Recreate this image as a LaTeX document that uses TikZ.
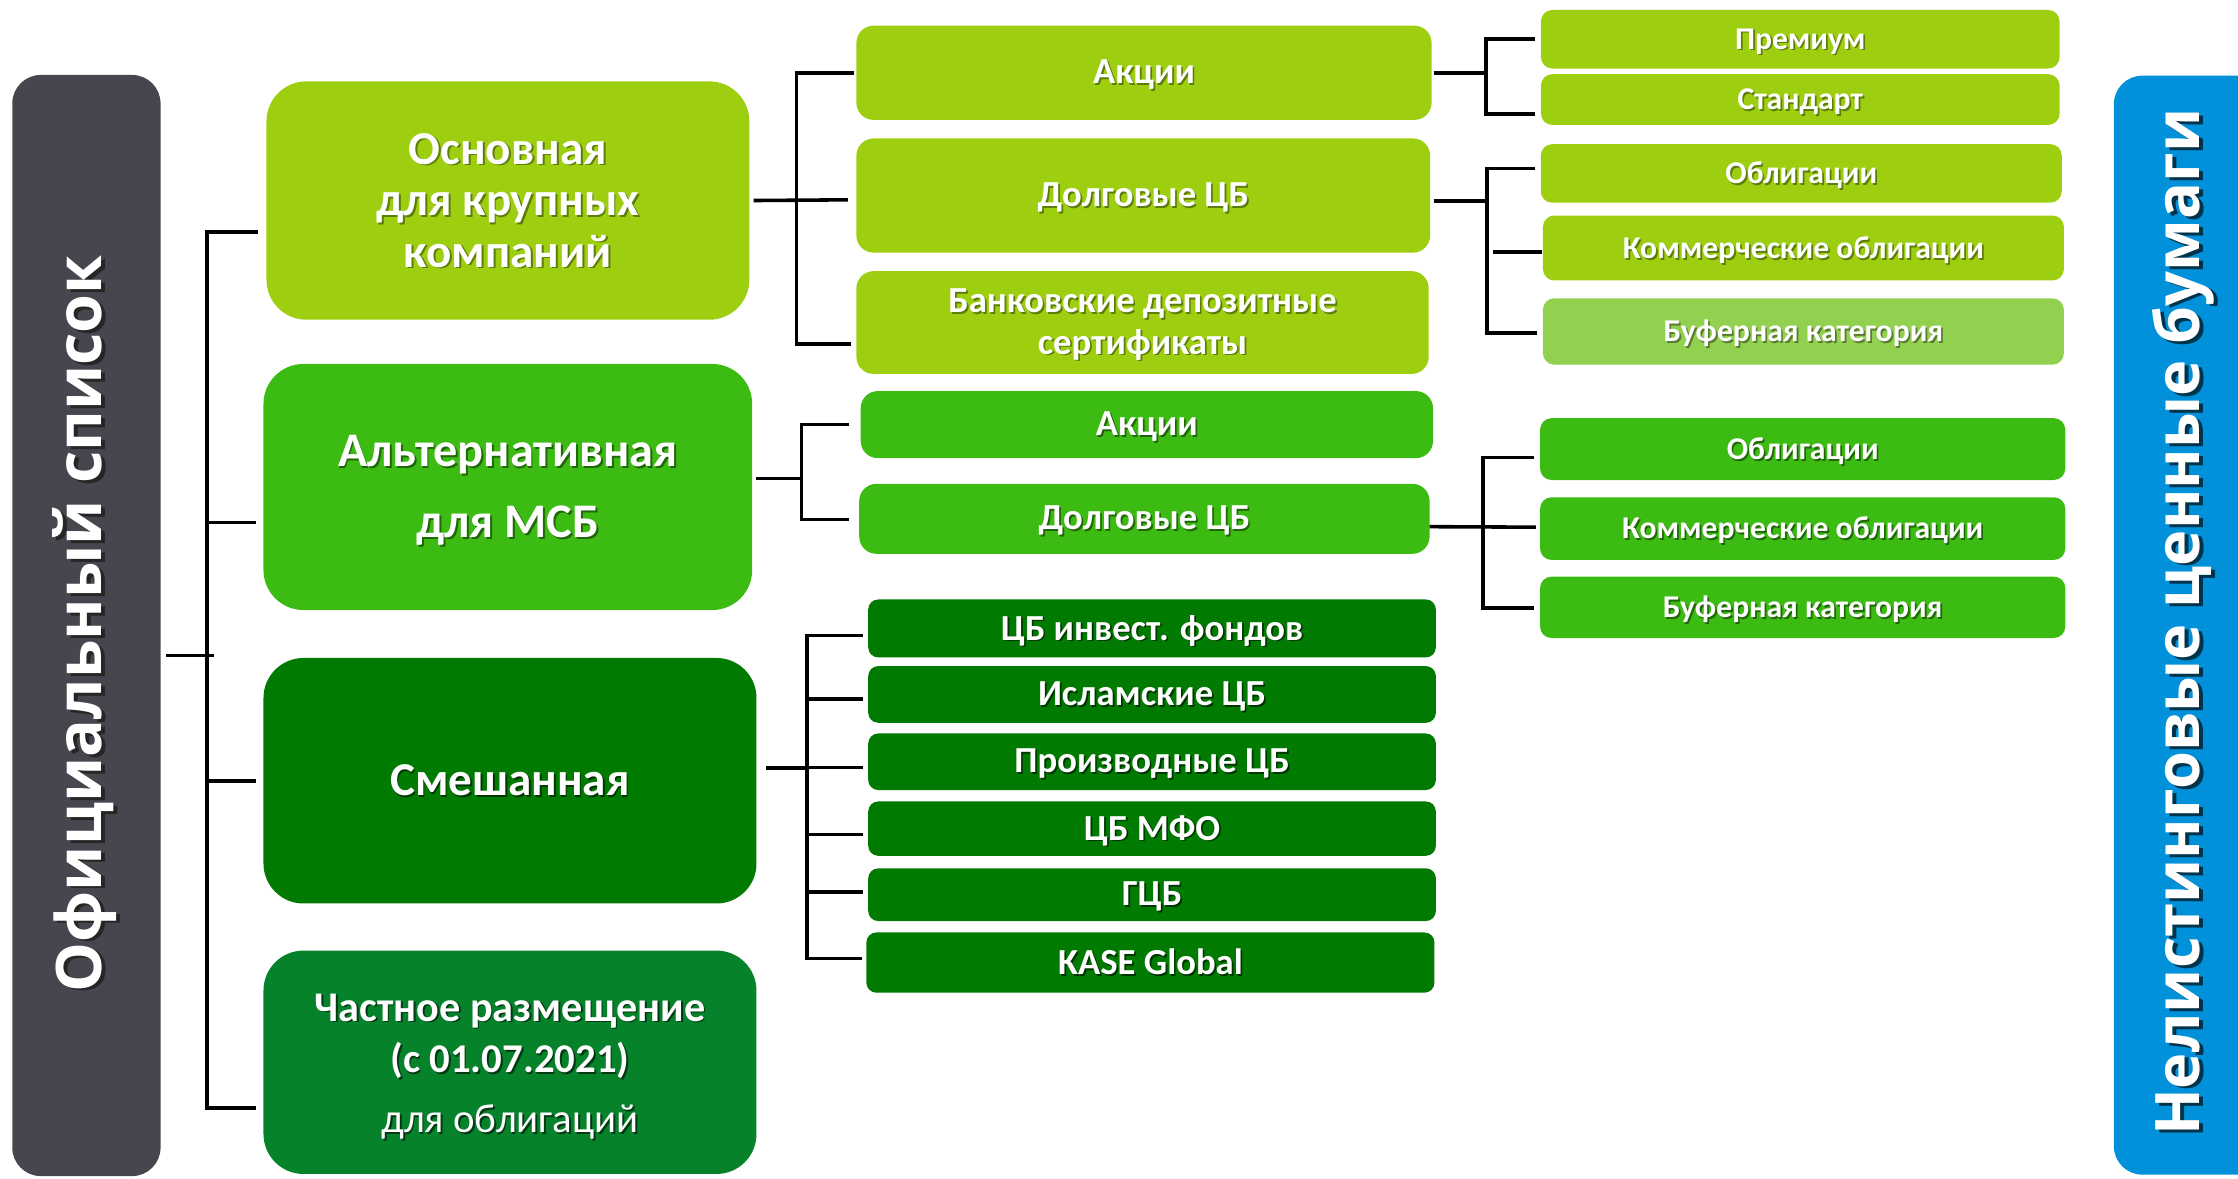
\documentclass[tikz,border=0pt]{standalone}
\usepackage{fontspec}
\setmainfont{Carlito}
\newfontfamily\sidefont{Open Sans}
\usetikzlibrary{calc}

\definecolor{cDark}{HTML}{46464F}
\definecolor{cBlue}{HTML}{0091DA}
\definecolor{cLime}{HTML}{9DCF10}
\definecolor{cGreen}{HTML}{3CBB12}
\definecolor{cBuf}{HTML}{92D050}
\definecolor{cDeep}{HTML}{007A00}
\definecolor{cPriv}{HTML}{06822A}
\colorlet{shc}{black}

\newlength\shdrop
\setlength\shdrop{2pt}
% text with a soft drop shadow (lowered by \shdrop without changing its extent)
\newcommand\sht[1]{\leavevmode\raisebox{-\shdrop}[\height][\depth]{\rlap{\kern1.2pt\raisebox{-1.2pt}{\textcolor{shc}{#1}}}#1}}
\newcommand\shv[1]{\leavevmode\rlap{\kern-2pt\raisebox{-2.5pt}{\textcolor{shc}{#1}}}#1}

% box from corners: style, name, x1, y1, x2, y2, text
\newcommand\bx[7]{%
  \node[#1, minimum width={(#5-#3)*1pt}, minimum height={(#6-#4)*1pt}]
    (#2) at ({(#3+#5)/2},{(#4+#6)/2}) {#7};}

\tikzset{
  base/.style={rectangle, inner sep=0pt, outer sep=0pt, text=white, align=center},
  tdrop/.style={execute at begin node={\setlength\shdrop{#1}}},
  lvlone/.style={base, rounded corners=28pt, font=\fontsize{33}{36}\selectfont\bfseries, tdrop=0.5pt},
  lvltwo/.style={base, rounded corners=12pt, font=\fontsize{25.7}{29}\selectfont\bfseries},
  lvlmix/.style={base, rounded corners=7pt, font=\fontsize{25.7}{29}\selectfont\bfseries},
  lvlthree/.style={base, rounded corners=8pt, font=\fontsize{22.2}{24}\selectfont\bfseries},
  sidebox/.style={base, rounded corners=20pt},
  sidetext/.style={inner sep=0pt, rotate=90, text=white, font=\sidefont\bfseries\fontsize{44}{48}\selectfont},
  lime/.style={fill=cLime, execute at begin node={\colorlet{shc}{cLime!60!black}}},
  green/.style={fill=cGreen, execute at begin node={\colorlet{shc}{cGreen!55!black}}},
  buf/.style={fill=cBuf, execute at begin node={\colorlet{shc}{cBuf!60!black}}},
  deep/.style={fill=cDeep, execute at begin node={\colorlet{shc}{cDeep!45!black}}},
  priv/.style={fill=cPriv, execute at begin node={\colorlet{shc}{cPriv!45!black}}},
  conn/.style={draw=black, line width=2.5pt, line join=miter},
}

\begin{document}
\begin{tikzpicture}[x=1pt, y=-1pt]
\path[use as bounding box] (0,0) rectangle (1568,826);
\clip (0,0) rectangle (1568,826);

% side panels
\bx{sidebox, fill=cDark}{offl}{8.6}{52.5}{112.5}{824}{}
\bx{sidebox, fill=cBlue}{nonl}{1481}{53}{1610}{823}{}
\node[sidetext, execute at begin node={\colorlet{shc}{black!85}}] (offtxt) at (60.5,437) {\shv{Официальный список}};
\node[sidetext, font=\sidefont\bfseries\fontsize{43}{48}\selectfont, execute at begin node={\colorlet{shc}{cBlue!35!black}}] (nontxt) at (1531,436) {\shv{Нелистинговые ценные бумаги}};

% level 1
\bx{lvlone, lime}{osn}{186.7}{57}{525}{224}{\sht{Основная}\\\sht{для крупных}\\\sht{компаний}}
\bx{lvlone, green, font=\fontsize{33.8}{36}\selectfont\bfseries, tdrop=3pt}{alt}{184.6}{255}{527}{427.4}{\sht{Альтернативная}\\[14pt]\sht{для МСБ}}
\bx{lvlone, deep}{mix}{184.6}{461}{530}{633}{\sht{Смешанная}}
\bx{lvlone, priv, tdrop=3.5pt}{priv}{184.6}{666}{530}{822.5}{\fontsize{29.6}{33}\selectfont\sht{Частное размещение}\\\fontsize{28.6}{33}\selectfont\sht{(с 01.07.2021)}\\[6pt]\fontsize{28.6}{33}\selectfont\mdseries\sht{для облигаций}}

% level 2
\bx{lvltwo, lime}{akc}{600}{18}{1003}{84}{\sht{Акции}}
\bx{lvltwo, lime}{dlg}{600}{97}{1002}{177}{\sht{Долговые ЦБ}}
\bx{lvltwo, lime}{bnk}{600}{190}{1001}{262}{\sht{Банковские депозитные}\\\sht{сертификаты}}
\bx{lvltwo, green}{akc2}{603}{274}{1004}{321}{\sht{Акции}}
\bx{lvltwo, green}{dlg2}{602}{339}{1001.6}{388}{\sht{Долговые ЦБ}}

\bx{lvlmix, deep}{inv}{608.3}{420}{1006}{460.6}{\sht{ЦБ инвест. фондов}}
\bx{lvlmix, deep}{isl}{608.3}{466.7}{1006}{506.4}{\sht{Исламские ЦБ}}
\bx{lvlmix, deep}{prz}{608.3}{513.9}{1006}{553.5}{\sht{Производные ЦБ}}
\bx{lvlmix, deep}{mfo}{608.3}{561.5}{1006}{599.6}{\sht{ЦБ МФО}}
\bx{lvlmix, deep}{gcb}{608.3}{608.4}{1006}{645.3}{\sht{ГЦБ}}
\bx{lvlmix, deep, tdrop=0pt}{kase}{607}{653.3}{1005}{695.5}{\sht{KASE Global}}

% level 3
\bx{lvlthree, lime}{prem}{1079.6}{7}{1443}{48}{\sht{Премиум}}
\bx{lvlthree, lime}{std}{1079.6}{52}{1443}{87.5}{\sht{Стандарт}}
\bx{lvlthree, lime}{obl}{1079.5}{101}{1444.5}{142}{\sht{Облигации}}
\bx{lvlthree, lime}{kom}{1081}{151}{1446}{196.5}{\sht{Коммерческие облигации}}
\bx{lvlthree, buf}{buf}{1081}{209}{1446}{255.5}{\sht{Буферная категория}}
\bx{lvlthree, green}{obl2}{1079}{293}{1447}{336.3}{\sht{Облигации}}
\bx{lvlthree, green}{kom2}{1079}{348.4}{1447}{392.3}{\sht{Коммерческие облигации}}
\bx{lvlthree, green}{buf2}{1079}{404}{1447}{447}{\sht{Буферная категория}}

% ---- connectors ----
% official list bracket
\coordinate (bl) at (145,0);
\coordinate (o0) at ($(offl.east)+(4,21)$);
\coordinate (o1) at ($(osn.west)+(-6,22)$);
\coordinate (o2) at ($(alt.west)+(-5,25)$);
\coordinate (o3) at ($(mix.west)+(-5,0)$);
\coordinate (o4) at ($(priv.west)+(-5,32)$);
\draw[conn] (o1) -- (bl|-o1) -- (bl|-o4) -- (o4);
\draw[conn] (o2) -- (bl|-o2);
\draw[conn] (o3) -- (bl|-o3);
\draw[conn] (o0) -- ($(bl|-o0)+(5,0)$);

% main board bracket
\coordinate (bxa) at (558,0);
\coordinate (a0) at ($(osn.east)+(3,0)$);
\coordinate (a1) at ($(akc.west)+(-2,0)$);
\coordinate (a2) at ($(dlg.west)+(-6,3)$);
\coordinate (a3) at ($(bnk.west)+(-4,15)$);
\draw[conn] (a1) -- (bxa|-a1) -- (bxa|-a3) -- (a3);
\draw[conn] (a0) -- (a2);

% alternative board bracket
\coordinate (bxb) at (561.5,0);
\coordinate (c0) at ($(alt.east)+(3,-6)$);
\coordinate (c1) at ($(akc2.west)+(-8,0)$);
\coordinate (c2) at ($(dlg2.west)+(-7,0.5)$);
\draw[conn] (c1) -- (bxb|-c1) -- (bxb|-c2) -- (c2);
\draw[conn] (c0) -- (bxb|-c0);

% mixed board bracket
\coordinate (bxc) at (565.5,0);
\coordinate (m0) at ($(mix.east)+(7,-9)$);
\coordinate (m1) at ($(inv.west)+(-4,5)$);
\coordinate (m2) at ($(isl.west)+(-4,3)$);
\coordinate (m3) at ($(prz.west)+(-4,4)$);
\coordinate (m4) at ($(mfo.west)+(-4,4)$);
\coordinate (m5) at ($(gcb.west)+(-4,-2)$);
\coordinate (m6) at ($(kase.west)+(-3,-3)$);
\draw[conn] (m1) -- (bxc|-m1) -- (bxc|-m6) -- (m6);
\draw[conn] (m0) -- (bxc|-m0);
\draw[conn] (bxc|-m2) -- (m2);
\draw[conn] (bxc|-m3) -- (m3);
\draw[conn] (bxc|-m4) -- (m4);
\draw[conn] (bxc|-m5) -- (m5);

% shares: premium / standard
\coordinate (bxd) at (1041,0);
\coordinate (p0) at ($(akc.east)+(2,0)$);
\coordinate (p1) at ($(prem.west)+(-4,0)$);
\coordinate (p2) at ($(std.west)+(-4,10)$);
\draw[conn] (p1) -- (bxd|-p1) -- (bxd|-p2) -- (p2);
\draw[conn] (p0) -- (bxd|-p0);

% debt (main)
\coordinate (bxe) at (1042,0);
\coordinate (q0) at ($(dlg.east)+(3,4)$);
\coordinate (q1) at ($(obl.west)+(-4,-3.5)$);
\coordinate (q2) at ($(kom.west)+(-1,3)$);
\coordinate (q3) at ($(buf.west)+(-4,1)$);
\draw[conn] (q1) -- (bxe|-q1) -- (bxe|-q3) -- (q3);
\draw[conn] (q0) -- (bxe|-q0);
\draw[conn] ($(bxe|-q2)+(4,0)$) -- (q2);

% debt (alternative)
\coordinate (bxf) at (1039,0);
\coordinate (r0) at ($(dlg2.east)+(0,5.5)$);
\coordinate (r1) at ($(obl2.west)+(-4,6)$);
\coordinate (r2) at ($(kom2.west)+(-3,-1)$);
\coordinate (r3) at ($(buf2.west)+(-4,0.5)$);
\draw[conn] (r1) -- (bxf|-r1) -- (bxf|-r3) -- (r3);
\draw[conn] (r0) -- (r2);
\end{tikzpicture}
\end{document}
